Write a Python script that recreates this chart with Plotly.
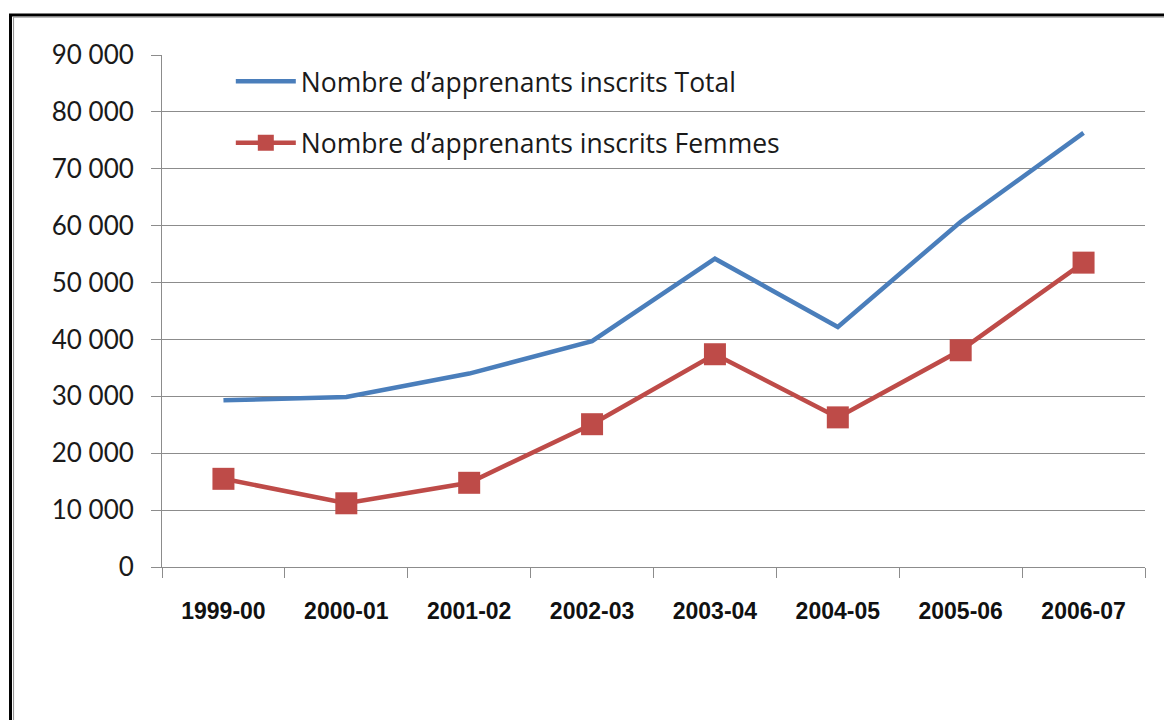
import plotly.graph_objects as go

years = ["1999-00", "2000-01", "2001-02", "2002-03", "2003-04", "2004-05", "2005-06", "2006-07"]
total = [29300, 29900, 34000, 39700, 54200, 42200, 60700, 76300]
femmes = [15500, 11200, 14800, 25100, 37400, 26300, 38100, 53500]
y_ticks = [0, 10000, 20000, 30000, 40000, 50000, 60000, 70000, 80000, 90000]

blue = "#4A7EBB"
red = "#BE4B48"
grid = "#8C8C8C"

fig = go.Figure()
fig.add_trace(go.Scatter(x=years, y=total, mode="lines", name="Nombre d\u2019apprenants inscrits Total",
                         line=dict(color=blue, width=4.5), legendgroup="a"))
fig.add_trace(go.Scatter(x=years, y=femmes, mode="lines+markers", name="Nombre d\u2019apprenants inscrits Femmes",
                         line=dict(color=red, width=4.5),
                         marker=dict(symbol="square", size=22, color=red), legendgroup="b"))

fig.update_xaxes(type="category", range=[-0.5, 7.5], showgrid=False, zeroline=False,
                 showline=True, linecolor=grid, linewidth=1,
                 ticks="outside", tickson="boundaries", ticklen=10, tickcolor=grid, tickwidth=1,
                 tickfont=dict(family="Liberation Sans", size=23, color="#111111", weight="bold"),
                 ticklabelstandoff=23)
fig.update_yaxes(range=[0, 90000], tickvals=y_ticks, tickformat=",d",
                 showgrid=True, gridcolor=grid, gridwidth=1, zeroline=False,
                 showline=True, linecolor=grid, linewidth=1,
                 ticks="outside", ticklen=10, tickcolor=grid, tickwidth=1,
                 tickfont=dict(family="Lato", size=26, color="#1a1a1a"),
                 ticklabelstandoff=12)

# outer frame of the original picture
fig.add_shape(type="rect", xref="paper", yref="paper", x0=-0.1541, y0=-0.35, x1=1.06, y1=1.078,
              line=dict(color="black", width=3), layer="below")
fig.add_shape(type="rect", xref="paper", yref="paper", x0=-0.1510, y0=-0.35, x1=1.06, y1=1.074,
              line=dict(color="#909090", width=1), layer="below")

fig.update_layout(
    width=1172, height=720,
    margin=dict(l=154, r=35, t=47, b=161),
    paper_bgcolor="white", plot_bgcolor="white",
    separators=", ",
    font=dict(family="Lato", color="#1a1a1a"),
    showlegend=True,
    legend=dict(x=0.070, y=0.995, xanchor="left", yanchor="top",
                font=dict(family="Open Sans", size=26.5, color="#1a1a1a"),
                bgcolor="rgba(0,0,0,0)", traceorder="grouped", tracegroupgap=24,
                itemwidth=60),
)

fig.write_html("out.html")
